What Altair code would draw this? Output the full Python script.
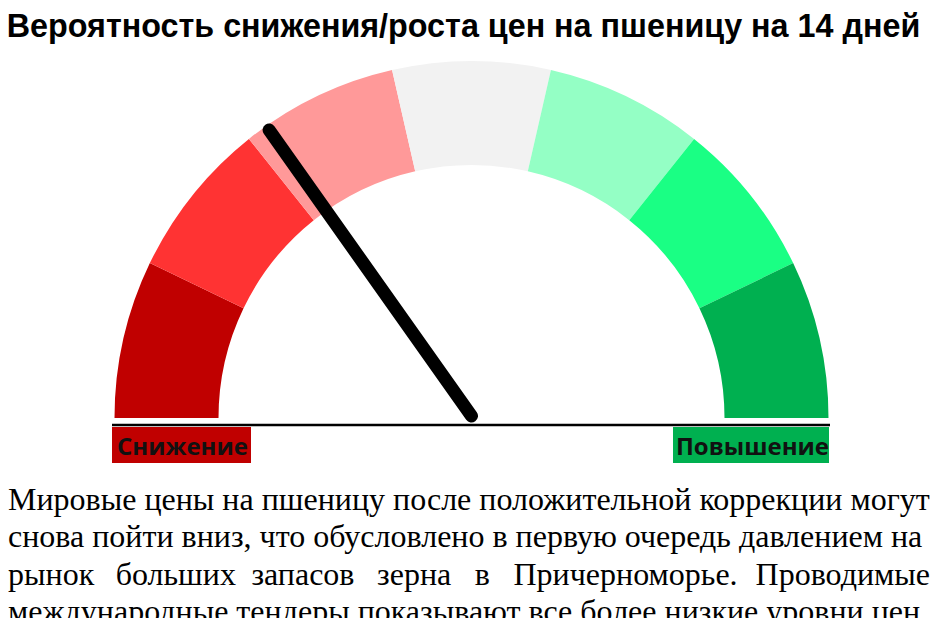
import math
import altair as alt
import pandas as pd

# ---- data ----
segments = ["s1", "s2", "s3", "s4", "s5", "s6", "s7"]
seg_share = [1, 1, 1, 1, 1, 1, 1]
seg_colors = ["#C00000", "#FF3333", "#FF9999", "#F2F2F2", "#94FFC5", "#1AFF84", "#00B050"]
needle_value = [30.5]  # 0..100 along the gauge (left -> right)

title_text = ["Вероятность снижения/роста цен на пшеницу на 14 дней"]
label_text = ["Снижение", "Повышение"]
label_colors = ["#C00000", "#00B050"]

para_lines = [
    "Мировые цены на пшеницу после положительной коррекции могут",
    "снова пойти вниз, что обусловлено в первую очередь давлением на",
    None,
    "международные тендеры показывают все более низкие уровни цен.",
]
line3_words = ["рынок", "больших", "запасов", "зерна", "в", "Причерноморье.", "Проводимые"]
line3_x = [0, 107.7, 243.4, 369.1, 466.8, 505.5, 922]
line3_align = ["left", "left", "left", "left", "left", "left", "right"]

# ---- layout ----
W, H = 922, 610
CX, CY = 463.5, 410
R_OUT, R_IN = 357, 253
NEEDLE_LEN = 352

seg_df = pd.DataFrame({"seg": segments, "v": seg_share, "i": list(range(len(segments)))})

gauge = alt.Chart(seg_df).mark_arc(
    innerRadius=R_IN, outerRadius=R_OUT, stroke=None
).encode(
    theta=alt.Theta("v:Q", stack=True,
                    scale=alt.Scale(range=[-math.pi / 2, math.pi / 2])),
    order=alt.Order("i:Q"),
    color=alt.Color("seg:N", scale=alt.Scale(domain=segments, range=seg_colors), legend=None),
    x=alt.value(CX),
    y=alt.value(CY),
)

needle_df = pd.DataFrame({"value": needle_value})
needle = alt.Chart(needle_df).transform_calculate(
    ang="PI * datum.value / 100",
    nx=f"{CX} - {NEEDLE_LEN} * cos(datum.ang)",
    ny=f"{CY} - {NEEDLE_LEN} * sin(datum.ang)",
    cx=f"{CX}",
    cy=f"{CY - 2}",
).mark_rule(strokeWidth=13, strokeCap="round", color="black").encode(
    x=alt.X("nx:Q", scale=None),
    y=alt.Y("ny:Q", scale=None),
    x2="cx:Q",
    y2="cy:Q",
)

baseline = alt.Chart(pd.DataFrame({"a": [0]})).mark_rule(
    color="black", strokeWidth=2.5
).encode(x=alt.value(104), x2=alt.value(822), y=alt.value(417))

lab_df = pd.DataFrame({
    "label": label_text,
    "col": label_colors,
    "x0": [104, 665],
    "x1": [243, 821],
    "tx": [174.5, 744.5],
})
boxes = alt.Chart(lab_df).mark_rect().encode(
    x=alt.X("x0:Q", scale=None), x2="x1:Q",
    y=alt.value(419), y2=alt.value(455),
    color=alt.Color("col:N", scale=None),
)
labels = alt.Chart(lab_df).mark_text(
    font="Open Sans", fontWeight="bold", fontSize=24, color="#111111",
    baseline="alphabetic", align="center"
).encode(x=alt.X("tx:Q", scale=None), y=alt.value(447), text="label:N")

title = alt.Chart(pd.DataFrame({"t": title_text})).mark_text(
    font="Liberation Sans, Arial", fontWeight="bold",
    fontSize=32.3, color="black", baseline="alphabetic", align="center"
).encode(x=alt.value(455.5), y=alt.value(29), text="t:N")

ys = [502, 539, 577, 614]
para_rows = []
for k, line in enumerate(para_lines):
    if line is not None:
        para_rows.append({"t": line, "x": 0, "y": ys[k]})
para_df = pd.DataFrame(para_rows)
para = alt.Chart(para_df).mark_text(
    font="Liberation Serif", fontSize=32, color="black",
    baseline="alphabetic", align="left"
).encode(x=alt.X("x:Q", scale=None), y=alt.Y("y:Q", scale=None), text="t:N")

words_left = pd.DataFrame({
    "t": [w for w, a in zip(line3_words, line3_align) if a == "left"],
    "x": [x for x, a in zip(line3_x, line3_align) if a == "left"],
    "y": ys[2],
})
words_right = pd.DataFrame({
    "t": [w for w, a in zip(line3_words, line3_align) if a == "right"],
    "x": [x for x, a in zip(line3_x, line3_align) if a == "right"],
    "y": ys[2],
})
line3_l = alt.Chart(words_left).mark_text(
    font="Liberation Serif", fontSize=32, color="black",
    baseline="alphabetic", align="left"
).encode(x=alt.X("x:Q", scale=None), y=alt.Y("y:Q", scale=None), text="t:N")
line3_r = alt.Chart(words_right).mark_text(
    font="Liberation Serif", fontSize=32, color="black",
    baseline="alphabetic", align="right"
).encode(x=alt.X("x:Q", scale=None), y=alt.Y("y:Q", scale=None), text="t:N")

chart = alt.layer(gauge, baseline, needle, boxes, labels, title, para, line3_l, line3_r).properties(
    width=W, height=H, autosize=alt.AutoSizeParams(type="none"), padding=0
).configure_view(stroke=None)

chart.save("out.html", embed_options={"renderer": "svg", "actions": False})
